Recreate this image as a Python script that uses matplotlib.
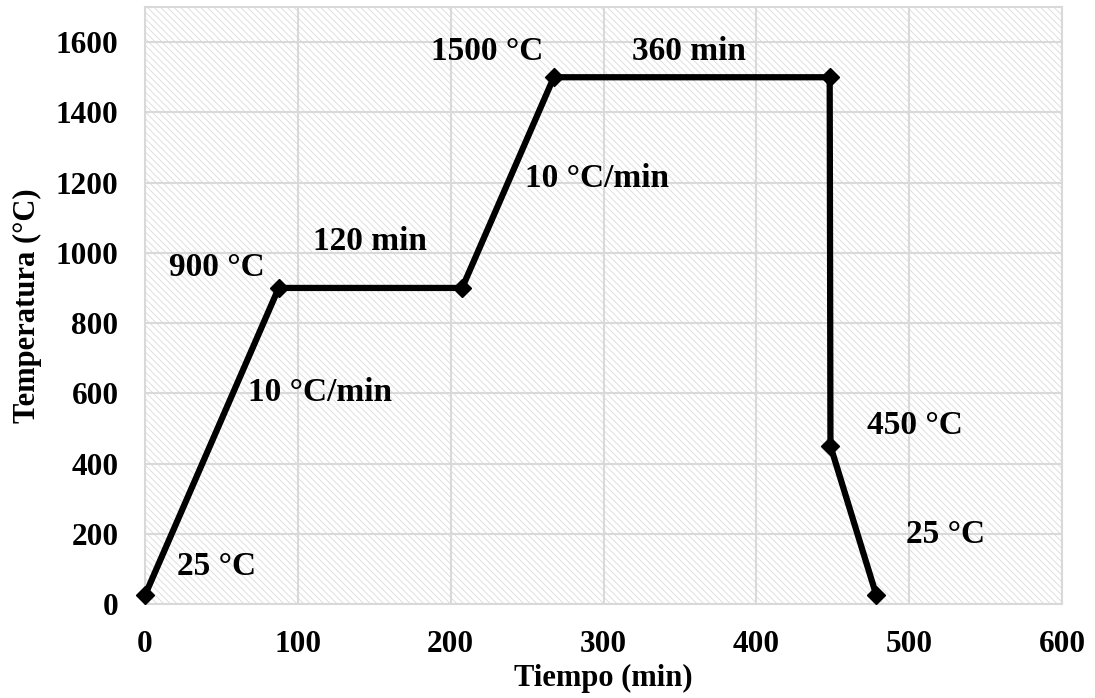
import matplotlib
matplotlib.use("Agg")
import matplotlib.pyplot as plt
from matplotlib.patches import Rectangle

# Data
tiempo = [0, 87.5, 207.5, 267.5, 448, 448.5, 478.5]
temperatura = [25, 900, 900, 1500, 1500, 450, 25]

labels = ["25 °C", "10 °C/min", "900 °C", "120 min", "1500 °C", "360 min",
          "10 °C/min", "450 °C", "25 °C"]
label_x = [47, 114.5, 47, 147, 224, 356, 296, 504, 524]
label_y = [106, 601, 959, 1031, 1574, 1574, 1213, 507, 197]

xticks = [0, 100, 200, 300, 400, 500, 600]
yticks = [0, 200, 400, 600, 800, 1000, 1200, 1400, 1600]

plt.rcParams['font.family'] = ['Liberation Serif', 'DejaVu Serif']
plt.rcParams['font.weight'] = 'bold'
plt.rcParams['hatch.linewidth'] = 0.6

fig = plt.figure(figsize=(10.95, 6.98), dpi=100)
ax = fig.add_axes([145/1095, 1 - 604/698, (1062-145)/1095, (604-7)/698])

ax.add_patch(Rectangle((0, 0), 1, 1, transform=ax.transAxes, facecolor='white',
                       edgecolor='#dadada', hatch='\\\\\\\\\\', lw=0, zorder=0))

ax.set_xlim(0, 600)
ax.set_ylim(0, 1700)
ax.set_xticks(xticks)
ax.set_yticks(yticks)
ax.grid(True, color='#d9d9d9', lw=1.5, zorder=1)
ax.set_axisbelow(True)
for s in ax.spines.values():
    s.set_color('#d9d9d9')
    s.set_linewidth(1.5)
ax.tick_params(axis='both', length=0, labelsize=22.5)
ax.tick_params(axis='x', pad=19)
ax.tick_params(axis='y', pad=19)
for lbl in ax.get_xticklabels() + ax.get_yticklabels():
    lbl.set_fontweight('bold')

ax.plot(tiempo, temperatura, color='black', lw=4.5, marker='D', markersize=9,
        clip_on=False, zorder=5)

for t, x, y in zip(labels, label_x, label_y):
    ax.text(x, y, t, fontsize=24, fontweight='bold', ha='center', va='center', zorder=6)

ax.set_xlabel('Tiempo (min)', fontsize=22, fontweight='bold', labelpad=3)
ax.set_ylabel('Temperatura (°C)', fontsize=22, fontweight='bold', labelpad=10)

fig.savefig('out.png', dpi=100)
